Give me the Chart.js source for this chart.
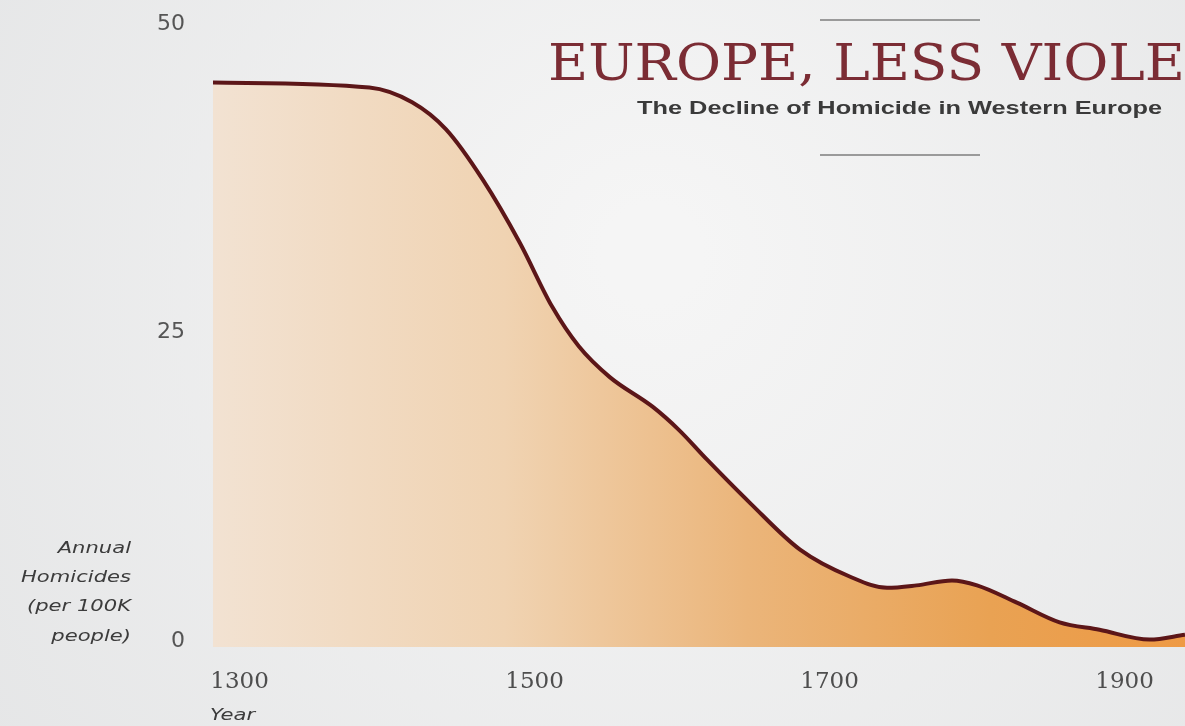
<!DOCTYPE html>
<html>
<head>
<meta charset="utf-8">
<script src="https://cdn.jsdelivr.net/npm/chart.js@4.4.1/dist/chart.umd.min.js"></script>
<style>
  html, body { margin: 0; padding: 0; background: #eeeeee; }
  #wrap { width: 1185px; height: 726px; position: relative; }
</style>
</head>
<body>
<div id="wrap"><canvas id="homicideChart" width="1185" height="726"></canvas></div>
<script>
// Homicide rate, Western Europe (per 100k people per year)
const years = [1282, 1388, 1417, 1440, 1465, 1490, 1512, 1530, 1551, 1580, 1598, 1617, 1646, 1680, 1714, 1739, 1759, 1783, 1800, 1827, 1856, 1883, 1917, 1941];
const rates = [45.3, 44.9, 43.7, 41.5, 37.4, 32.3, 27.1, 23.9, 21.4, 19.0, 17.1, 14.7, 11.2, 7.4, 5.2, 4.3, 4.5, 4.9, 4.5, 3.1, 1.5, 0.9, 0.1, 0.5];
const xTicks = [1300, 1500, 1700, 1900];
const yTicks = [0, 25, 50];

const titleText = 'EUROPE, LESS VIOLENT';
const subtitleText = 'The Decline of Homicide in Western Europe';
const yTitleLines = ['Annual', 'Homicides', '(per 100K', 'people)'];
const xTitle = 'Year';

// page background and all the text around the plot
const decor = {
  id: 'decor',
  beforeDraw(chart) {
    const ctx = chart.ctx;
    const w = chart.width, h = chart.height;
    ctx.save();
    const bg = ctx.createRadialGradient(w * 0.55, h * 0.35, 50, w * 0.55, h * 0.45, w * 0.75);
    bg.addColorStop(0, '#f5f5f5');
    bg.addColorStop(1, '#e3e4e5');
    ctx.fillStyle = bg;
    ctx.fillRect(0, 0, w, h);
    ctx.restore();
  },
  afterDraw(chart) {
    const ctx = chart.ctx;
    ctx.save();

    // title, runs off the right edge
    ctx.font = '50px "DejaVu Serif"';
    ctx.fillStyle = '#7b2c34';
    ctx.textBaseline = 'alphabetic';
    const part = ctx.measureText('EUROPE, LESS VIOLE').width;
    ctx.save();
    ctx.translate(548, 80);
    ctx.scale(637 / part, 1);
    ctx.fillText(titleText, 0, 0);
    ctx.restore();

    // subtitle
    ctx.font = 'bold 18px "Liberation Sans Narrow", "Liberation Sans"';
    ctx.fillStyle = '#3a3a3a';
    const sw = ctx.measureText(subtitleText).width;
    ctx.save();
    ctx.translate(637, 114);
    ctx.scale(525 / sw, 1);
    ctx.fillText(subtitleText, 0, 0);
    ctx.restore();

    // rules above and below the title block
    ctx.strokeStyle = '#9a9a9a';
    ctx.lineWidth = 2;
    ctx.beginPath();
    ctx.moveTo(820, 20); ctx.lineTo(980, 20);
    ctx.moveTo(820, 155); ctx.lineTo(980, 155);
    ctx.stroke();

    // axis titles
    ctx.font = 'italic 15px "DejaVu Sans"';
    ctx.fillStyle = '#3c3c3c';
    ctx.textBaseline = 'middle';
    const k = 110 / ctx.measureText('Homicides').width;
    yTitleLines.forEach((t, i) => {
      ctx.save();
      ctx.translate(131, 549 + i * 29.3);
      ctx.scale(k, 1);
      ctx.textAlign = 'right';
      ctx.fillText(t, 0, 0);
      ctx.restore();
    });
    ctx.save();
    ctx.translate(210, 716);
    ctx.scale(k, 1);
    ctx.textAlign = 'left';
    ctx.fillText(xTitle, 0, 0);
    ctx.restore();

    ctx.restore();
  }
};

new Chart(document.getElementById('homicideChart'), {
  type: 'line',
  data: {
    datasets: [{
      data: years.map((y, i) => ({ x: y, y: rates[i] })),
      borderColor: '#5c1618',
      borderWidth: 4,
      pointRadius: 0,
      cubicInterpolationMode: 'monotone',
      fill: 'start',
      backgroundColor: (c) => {
        const a = c.chart.chartArea;
        if (!a) return '#eccaa0';
        const g = c.chart.ctx.createLinearGradient(a.left, 0, a.right, 0);
        g.addColorStop(0, '#f2e2d2');
        g.addColorStop(0.3, '#f0d3b2');
        g.addColorStop(0.55, '#ebb57a');
        g.addColorStop(0.8, '#e9a253');
        g.addColorStop(1, '#ee9a45');
        return g;
      }
    }]
  },
  options: {
    responsive: false,
    animation: false,
    layout: { padding: 0 },
    plugins: {
      legend: { display: false },
      tooltip: { enabled: false },
      title: { display: false }
    },
    scales: {
      x: {
        type: 'linear',
        min: 1282,
        max: 1941,
        afterBuildTicks: (s) => { s.ticks = xTicks.map(v => ({ value: v })); },
        afterFit: (s) => { s.height = 79; },
        grid: { display: false, drawTicks: false },
        border: { display: false },
        ticks: {
          padding: 21,
          maxRotation: 0,
          autoSkip: false,
          color: '#4e4e4e',
          font: { family: 'DejaVu Serif', size: 23 },
          callback: (v) => String(v)
        }
      },
      y: {
        min: -0.5,
        max: 52,
        afterBuildTicks: (s) => { s.ticks = yTicks.map(v => ({ value: v })); },
        // tick padding is horizontal spacing only; keep it out of the top/bottom inset
        afterFit: (s) => { s.width = 213; s.paddingTop = 0; s.paddingBottom = 0; },
        grid: { display: false, drawTicks: false },
        border: { display: false },
        ticks: {
          padding: 28,
          color: '#555',
          font: { family: 'DejaVu Sans', size: 22 },
          callback: (v) => String(v)
        }
      }
    }
  },
  plugins: [decor]
});
</script>
</body>
</html>
